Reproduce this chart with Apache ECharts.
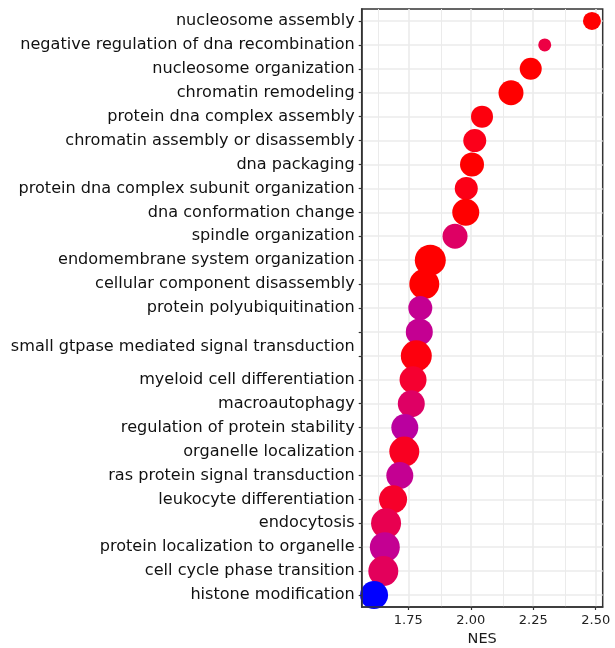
<!DOCTYPE html>
<html>
<head>
<meta charset="utf-8">
<script src="https://cdn.jsdelivr.net/npm/echarts@6/dist/echarts.min.js"></script>
<style>
  html, body { margin: 0; padding: 0; background: #ffffff; }
  #chart { width: 615px; height: 648px; }
</style>
</head>
<body>
<div id="chart"></div>
<script>
// ---------- data ----------
const categories = [
  'nucleosome assembly',
  'negative regulation of dna recombination',
  'nucleosome organization',
  'chromatin remodeling',
  'protein dna complex assembly',
  'chromatin assembly or disassembly',
  'dna packaging',
  'protein dna complex subunit organization',
  'dna conformation change',
  'spindle organization',
  'endomembrane system organization',
  'cellular component disassembly',
  'protein polyubiquitination',
  '',
  'small gtpase mediated signal transduction\n',
  'myeloid cell differentiation',
  'macroautophagy',
  'regulation of protein stability',
  'organelle localization',
  'ras protein signal transduction',
  'leukocyte differentiation',
  'endocytosis',
  'protein localization to organelle',
  'cell cycle phase transition',
  'histone modification'
];
const nes = [
  2.485, 2.296, 2.240, 2.161, 2.045, 2.016, 2.005, 1.982, 1.980, 1.937,
  1.838, 1.814, 1.798, 1.794, 1.782, 1.769, 1.762, 1.736, 1.734, 1.716,
  1.689, 1.661, 1.656, 1.650, 1.613
];
const setSize = [
  18, 13, 22, 25, 22, 23, 24, 23, 27, 25,
  31, 30, 24, 27, 31, 27, 27, 27, 30, 27,
  28, 30, 30, 30, 28
];
const significance = [
  1.00, 0.80, 1.00, 1.00, 0.98, 0.95, 1.00, 0.96, 1.00, 0.66,
  1.00, 1.00, 0.46, 0.46, 0.98, 0.88, 0.66, 0.40, 0.93, 0.46,
  0.90, 0.75, 0.46, 0.70, 0.00
];
const xTickValues = [1.75, 2.00, 2.25, 2.50];
const xMinorValues = [1.625, 1.875, 2.125, 2.375];
const xRange = [1.5635, 2.528];

// ---------- colour scale (blue -> red, interpolated in Lab like ggplot2) ----------
function srgbToLin(c) { c /= 255; return c <= 0.04045 ? c / 12.92 : Math.pow((c + 0.055) / 1.055, 2.4); }
function linToSrgb(c) { c = Math.max(0, Math.min(1, c)); return c <= 0.0031308 ? 12.92 * c : 1.055 * Math.pow(c, 1 / 2.4) - 0.055; }
function rgbToLab(r, g, b) {
  const R = srgbToLin(r), G = srgbToLin(g), B = srgbToLin(b);
  let X = (0.4124 * R + 0.3576 * G + 0.1805 * B) / 0.95047;
  let Y = (0.2126 * R + 0.7152 * G + 0.0722 * B);
  let Z = (0.0193 * R + 0.1192 * G + 0.9505 * B) / 1.08883;
  const f = t => t > 0.008856 ? Math.cbrt(t) : 7.787 * t + 16 / 116;
  const fx = f(X), fy = f(Y), fz = f(Z);
  return [116 * fy - 16, 500 * (fx - fy), 200 * (fy - fz)];
}
function labToRgb(L, a, b) {
  const fy = (L + 16) / 116, fx = fy + a / 500, fz = fy - b / 200;
  const inv = t => t > 0.206893 ? t * t * t : (t - 16 / 116) / 7.787;
  const X = inv(fx) * 0.95047, Y = inv(fy), Z = inv(fz) * 1.08883;
  const R = 3.2406 * X - 1.5372 * Y - 0.4986 * Z;
  const G = -0.9689 * X + 1.8758 * Y + 0.0415 * Z;
  const B = 0.0557 * X - 0.2040 * Y + 1.0570 * Z;
  return [R, G, B].map(c => Math.round(linToSrgb(c) * 255));
}
const labLow = rgbToLab(0, 0, 255), labHigh = rgbToLab(255, 0, 0);
function colorFor(t) {
  const L = labLow[0] + (labHigh[0] - labLow[0]) * t;
  const a = labLow[1] + (labHigh[1] - labLow[1]) * t;
  const b = labLow[2] + (labHigh[2] - labLow[2]) * t;
  const c = labToRgb(L, a, b);
  return 'rgb(' + c.join(',') + ')';
}

// ---------- chart ----------
const points = nes.map((v, i) => ({
  value: [v, i, setSize[i]],
  itemStyle: { color: colorFor(significance[i]), opacity: 1 }
}));

const gridLines = [];
xTickValues.forEach(v => gridLines.push({ xAxis: v, lineStyle: { color: '#ebebeb', width: 1.6, type: 'solid' } }));
xMinorValues.forEach(v => gridLines.push({ xAxis: v, lineStyle: { color: '#ebebeb', width: 1.0, type: 'solid' } }));
categories.forEach((c, i) => gridLines.push({ yAxis: i, lineStyle: { color: '#ebebeb', width: 1.6, type: 'solid' } }));

const chart = echarts.init(document.getElementById('chart'), null, { renderer: 'canvas' });
chart.setOption({
  animation: false,
  backgroundColor: '#ffffff',
  grid: {
    left: 361.7, right: 12.3, top: 9, bottom: 41,
    outerBoundsMode: 'none',
    containLabel: false,
    show: true, borderColor: '#333333', borderWidth: 1.5, backgroundColor: '#ffffff'
  },
  xAxis: {
    type: 'value',
    min: xRange[0], max: xRange[1],
    name: 'NES', nameLocation: 'middle', nameGap: 25,
    nameTextStyle: { fontFamily: 'DejaVu Sans', fontSize: 14.5, color: '#1a1a1a' },
    z: 5,
    axisLine: { show: true, lineStyle: { color: '#333333', width: 1.5 } },
    axisTick: { show: true, customValues: xTickValues, length: 3, lineStyle: { color: '#333333', width: 1.2 } },
    axisLabel: {
      customValues: xTickValues, margin: 7,
      formatter: v => v.toFixed(2),
      fontFamily: 'DejaVu Sans', fontSize: 13, color: '#222222'
    },
    splitLine: { show: false }
  },
  yAxis: {
    type: 'category',
    inverse: true,
    data: categories,
    z: 5,
    axisLine: { show: true, lineStyle: { color: '#333333', width: 1.5 } },
    axisTick: { show: true, alignWithLabel: true, length: 3, lineStyle: { color: '#333333', width: 1.2 } },
    axisLabel: {
      margin: 7, interval: 0,
      fontFamily: 'DejaVu Sans', fontSize: 16.1, color: '#111111', lineHeight: 19
    },
    splitLine: { show: false }
  },
  series: [
    {
      type: 'scatter',
      z: 1,
      data: [],
      silent: true,
      markLine: {
        z: 1,
        silent: true,
        symbol: 'none',
        label: { show: false },
        animation: false,
        data: gridLines
      }
    },
    {
      type: 'scatter',
      z: 3,
      data: points,
      symbol: 'circle',
      symbolSize: d => d[2],
      itemStyle: { opacity: 1 },
      clip: false
    }
  ]
});
</script>
</body>
</html>
